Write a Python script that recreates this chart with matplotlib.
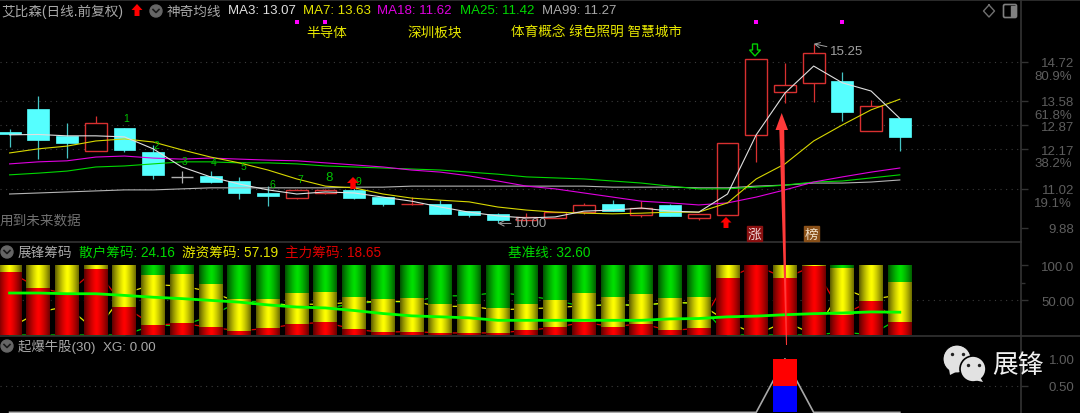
import numpy as np
import matplotlib
matplotlib.use('Agg')
import matplotlib.pyplot as plt
from matplotlib.patches import Circle, FancyBboxPatch, Rectangle

plt.rcParams['font.family'] = ['Liberation Sans', 'Noto Sans CJK SC']

# candles, one per day
opens = [12.67, 13.35, 12.56, 12.12, 12.78, 12.09, 11.36, 11.39, 11.24, 10.89, 10.74, 10.89, 10.98, 10.77, 10.56, 10.57,
         10.36, 10.28, 10.09, 10.16, 10.33, 10.57, 10.25, 10.54, 10.16, 10.25, 12.59, 13.84, 14.11, 14.16, 12.70, 13.08]
closes = [12.61, 12.44, 12.35, 12.94, 12.15, 11.42, 11.36, 11.21, 10.89, 10.80, 10.98, 10.98, 10.74, 10.57, 10.58, 10.28,
          10.25, 10.11, 10.19, 10.33, 10.54, 10.36, 10.45, 10.22, 10.28, 12.35, 14.81, 14.05, 14.98, 13.26, 13.43, 12.53]
highs = [12.75, 13.73, 12.95, 13.14, 12.78, 12.29, 11.53, 11.53, 11.36, 11.09, 11.01, 11.01, 11.04, 10.77, 10.77, 10.68,
         10.36, 10.30, 10.30, 10.33, 10.60, 10.68, 10.65, 10.57, 10.28, 12.35, 14.81, 14.69, 15.25, 14.43, 13.61, 13.08]
lows = [12.22, 11.88, 11.91, 12.12, 12.09, 11.30, 11.18, 11.18, 10.71, 10.51, 10.71, 10.86, 10.71, 10.51, 10.54, 10.28,
        10.19, 10.00, 10.09, 10.16, 10.28, 10.36, 10.19, 10.22, 10.10, 10.25, 11.80, 13.52, 13.55, 13.00, 12.70, 12.12]

ma3 = [12.59, 12.60, 12.56, 12.56, 12.53, 12.18, 11.65, 11.36, 11.15, 10.98, 10.86, 10.92, 10.89, 10.77, 10.65, 10.48,
       10.33, 10.22, 10.16, 10.19, 10.36, 10.39, 10.45, 10.36, 10.33, 10.86, 12.59, 13.81, 14.60, 14.11, 13.87, 13.07]
ma7 = [12.06, 12.18, 12.26, 12.41, 12.47, 12.38, 12.15, 11.94, 11.77, 11.56, 11.30, 11.09, 11.04, 10.86, 10.74, 10.68,
       10.63, 10.48, 10.39, 10.33, 10.30, 10.28, 10.30, 10.33, 10.33, 10.60, 11.30, 11.74, 12.41, 12.88, 13.32, 13.63]
ma18 = [11.74, 11.80, 11.83, 11.94, 11.97, 11.91, 11.88, 11.91, 11.88, 11.85, 11.83, 11.77, 11.71, 11.65, 11.56, 11.50,
        11.39, 11.24, 11.09, 11.01, 10.89, 10.77, 10.65, 10.60, 10.54, 10.60, 10.77, 10.98, 11.21, 11.36, 11.50, 11.62]
ma25 = [11.42, 11.47, 11.53, 11.65, 11.68, 11.74, 11.80, 11.80, 11.77, 11.77, 11.74, 11.68, 11.65, 11.62, 11.59, 11.56,
        11.50, 11.44, 11.36, 11.33, 11.30, 11.24, 11.18, 11.09, 11.01, 11.01, 11.06, 11.12, 11.21, 11.24, 11.33, 11.42]
ma99 = [10.86, 10.89, 10.92, 10.95, 10.98, 10.98, 11.01, 11.04, 11.04, 11.04, 11.04, 11.04, 11.06, 11.06, 11.09, 11.09,
        11.09, 11.09, 11.09, 11.09, 11.09, 11.06, 11.06, 11.06, 11.04, 11.04, 11.09, 11.12, 11.18, 11.18, 11.21, 11.27]

price_ticks = [14.72, 13.58, 12.87, 12.17, 11.02, 9.88]
price_grid = [14.72, 13.58, 12.87, 12.17, 11.02]
pct_labels = ['80.9%', '61.8%', '38.2%', '19.1%']
pct_prices = [14.72, 13.58, 12.17, 11.02]

# chip panel, percent of each stack
retail = [0.0, 0.0, 0.0, 0.0, 0.0, 14.0, 13.5, 27.0, 48.0, 48.0, 40.0, 38.0, 45.0, 48.0, 47.0, 56.0,
          56.0, 61.0, 56.0, 50.0, 40.0, 45.0, 41.5, 47.0, 45.0, 0.0, 0.0, 0.0, 0.0, 4.0, 0.5, 24.16]
hot_money = [10.0, 32.5, 41.0, 6.0, 59.5, 72.0, 70.0, 62.0, 46.0, 42.5, 44.0, 44.0, 47.0, 48.0, 48.0, 41.0,
             41.0, 36.0, 37.5, 39.0, 42.0, 43.0, 42.5, 46.5, 45.5, 19.0, 0.5, 19.0, 1.0, 67.0, 51.0, 57.19]
main_force = [90.0, 67.5, 59.0, 94.0, 40.5, 14.0, 16.5, 11.0, 6.0, 9.5, 16.0, 18.0, 8.0, 4.0, 5.0, 3.0,
              3.0, 3.0, 6.5, 11.0, 18.0, 12.0, 16.0, 6.5, 9.5, 81.0, 99.5, 81.0, 99.0, 29.0, 48.5, 18.65]
baseline = [60, 60, 59, 59, 56.6, 54, 52, 49.5, 47, 43, 40, 38.7, 35, 30.7, 27.4, 26,
            24.5, 21, 21, 21, 21, 21, 21, 23, 23.6, 26, 27, 29, 30.5, 31.5, 33, 32.6]

# signal panel
xg = [0] * 27 + [1] + [0] * 4

days = np.arange(len(closes))

BG = 'black'
AXIS = '#333333'
TICKTXT = '#5e5e5e'
RED = '#d83030'
CYAN = '#55ffff'

fig = plt.figure(figsize=(10.8, 4.14), dpi=100, facecolor=BG)


def panel(top, bottom, ymin, ymax):
    # panels are placed by pixel rows of the 1080x414 picture
    ax = fig.add_axes([0, 1 - bottom / 414, 1021 / 1080, (bottom - top) / 414], facecolor=BG)
    ax.set_xlim(-0.334, 35.22)
    ax.set_ylim(ymin, ymax)
    for s in ['left', 'top', 'bottom']:
        ax.spines[s].set_visible(False)
    ax.spines['right'].set_color(AXIS)
    ax.spines['right'].set_linewidth(1.2)
    ax.xaxis.set_visible(False)
    ax.yaxis.tick_right()
    ax.tick_params(axis='y', colors=AXIS, length=5, width=1, labelsize=9.5, labelcolor=TICKTXT, pad=33.5)
    return ax


def right_align(ax):
    for lab in ax.get_yticklabels():
        lab.set_ha('right')


# main panel
ax1 = panel(0, 243, 9.457, 16.56)
ax1.set_yticks(price_ticks)
ax1.set_yticklabels(['%.2f' % v for v in price_ticks])
right_align(ax1)
for v in price_grid:
    ax1.axhline(v, color='#3c3c3c', lw=0.8, ls=(0, (1, 4)), zorder=1)
for v, s in zip(pct_prices, pct_labels):
    ax1.annotate(s, xy=(1, v), xycoords=('axes fraction', 'data'), xytext=(51, -14), textcoords='offset pixels',
                 ha='right', va='center', color=TICKTXT, fontsize=9.5, annotation_clip=False)

w = 0.76
for i in days:
    o, c = opens[i], closes[i]
    if c > o:
        ax1.vlines(i, lows[i], highs[i], color=RED, lw=0.9, zorder=2)
        ax1.bar(i, c - o, bottom=o, width=w, facecolor=BG, edgecolor=RED, lw=1.0, zorder=3)
    elif c == o:
        ax1.vlines(i, lows[i], highs[i], color='#b0b0b0', lw=0.9, zorder=2)
        ax1.hlines(c, i - w / 2, i + w / 2, color='#b0b0b0', lw=1, zorder=3)
    else:
        ax1.vlines(i, lows[i], highs[i], color='#45c4c4', lw=0.9, zorder=2)
        ax1.bar(i, o - c, bottom=c, width=w, facecolor=CYAN, edgecolor=CYAN, lw=0.5, zorder=3)

ax1.plot(days, ma99, color='#b4b4b4', lw=0.8, zorder=4)
ax1.plot(days, ma25, color='#00d800', lw=0.8, zorder=4)
ax1.plot(days, ma18, color='#e000e0', lw=0.8, zorder=4)
ax1.plot(days, ma7, color='#d8d800', lw=0.8, zorder=5)
ax1.plot(days, ma3, color='#e0e0e0', lw=0.8, zorder=6)

ax1.annotate('15.25', xy=(28, 15.25), xytext=(16, -7), textcoords='offset pixels', color='#a0a0a0', fontsize=9.5,
             va='center', arrowprops=dict(arrowstyle='->', color='#a0a0a0', lw=0.7, shrinkA=0, shrinkB=0), zorder=7)
ax1.annotate('10.00', xy=(17, 10.00), xytext=(16, 0), textcoords='offset pixels', color='#a0a0a0', fontsize=9.5,
             va='center', arrowprops=dict(arrowstyle='->', color='#a0a0a0', lw=0.7, shrinkA=0, shrinkB=0), zorder=7)

# chip panel
ax2 = panel(243, 337, -1.4, 132.9)
ax2.set_yticks([100, 50])
ax2.set_yticklabels(['100.0', '50.00'])
right_align(ax2)
ax2.set_yticks([75], minor=True)
ax2.tick_params(axis='y', which='minor', colors=AXIS, length=3, width=1)
ax2.axhline(50, color='#3c3c3c', lw=0.8, ls=(0, (1, 4)), zorder=1)
ax2.plot(days, retail, color='#00d000', lw=0.9, zorder=2)
ax2.plot(days, hot_money, color='#e6e600', lw=0.9, zorder=2)
ax2.plot(days, main_force, color='#e00000', lw=0.9, zorder=2)

bw = 0.836
stack1 = np.array(main_force)
stack2 = stack1 + np.array(hot_money)
ax2.bar(days, main_force, width=bw, color='#ff0000', zorder=3)
ax2.bar(days, hot_money, bottom=stack1, width=bw, color='#ffff00', zorder=3)
ax2.bar(days, retail, bottom=stack2, width=bw, color='#00e000', zorder=3)
# cylinder shading on every bar
t = np.linspace(-1, 1, 24)
shade = np.zeros((1, 24, 4))
shade[0, :, 3] = 0.62 * np.abs(t) ** 1.3
for i in days:
    ax2.imshow(shade, extent=[i - bw / 2, i + bw / 2, 0, 100], aspect='auto', zorder=4, interpolation='bilinear')
ax2.set_xlim(-0.334, 35.22)
ax2.set_ylim(-1.4, 132.9)
ax2.plot(days, baseline, color='#00ff00', lw=2.0, zorder=5, solid_joinstyle='miter')

# signal panel
ax3 = panel(337, 414, -0.012, 1.426)
ax3.set_yticks([1.0, 0.5])
ax3.set_yticklabels(['1.00', '0.50'])
right_align(ax3)
ax3.axhline(0.5, color='#3c3c3c', lw=0.8, ls=(0, (1, 4)), zorder=1)
ax3.plot(days, xg, color='#a8a8a8', lw=1.2, zorder=2)
xg_arr = np.array(xg, dtype=float)
ax3.bar(days, xg_arr * 0.5, width=bw, color='#0000ff', zorder=3)
ax3.bar(days, xg_arr * 0.5, bottom=xg_arr * 0.5, width=bw, color='#ff0000', zorder=3)

# overlay in picture pixels for header text and decorations
top = fig.add_axes([0, 0, 1, 1], facecolor='none')
top.set_xlim(0, 1080)
top.set_ylim(414, 0)
top.axis('off')
top.axhline(0.7, color=AXIS, lw=1.2)
top.plot([0, 1021], [243, 243], color=AXIS, lw=1.2)
top.plot([0, 1080], [337, 337], color=AXIS, lw=1.2)


def label(x, y, s, color, size=9.5, **kw):
    top.text(x, y, s, color=color, fontsize=size, va='center', **kw)


def chevron(x, y):
    top.add_patch(Circle((x, y), 6, color='#666666', zorder=8))
    top.plot([x - 3, x, x + 3], [y - 1.5, y + 1.5, y - 1.5], color='#1a1a1a', lw=1.2, zorder=9)


def up_arrow(x, y, h, hw, color, fill=True, lw=1.0):
    xs = [x, x + hw, x + hw * 0.45, x + hw * 0.45, x - hw * 0.45, x - hw * 0.45, x - hw]
    ys = [y, y + h * 0.5, y + h * 0.5, y + h, y + h, y + h * 0.5, y + h * 0.5]
    if fill:
        top.fill(xs, ys, color=color, zorder=8, lw=0)
    else:
        top.fill(xs, ys, facecolor='none', edgecolor=color, lw=lw, zorder=8)


label(1, 11.5, '艾比森(日线.前复权)', '#a8a8a8', 9.8)
up_arrow(137, 5, 12, 5.5, '#ff0000')
chevron(156, 12)
label(167, 11.5, '神奇均线', '#a8a8a8', 9.8)
label(228, 11.5, 'MA3: 13.07', '#e0e0e0')
label(303, 11.5, 'MA7: 13.63', '#e6e600')
label(377, 11.5, 'MA18: 11.62', '#e000e0')
label(460, 11.5, 'MA25: 11.42', '#00d800')
label(542, 11.5, 'MA99: 11.27', '#a8a8a8')

label(306, 33, '半导体', '#e6e600', 9.8)
label(407, 33, '深圳板块', '#e6e600', 9.8)
label(511, 33, '体育概念 绿色照明 智慧城市', '#e6e600', 9.8)
ax1.scatter([10, 11, 26, 29], [15.89] * 4, s=5, marker='s', color='#ff00ff', lw=0, zorder=7)

top.plot([989, 994.5, 989, 983.5, 989], [6, 12, 18, 12, 6], color='#707070', lw=1)
top.add_patch(FancyBboxPatch((1005, 7), 10, 10, boxstyle='round,pad=1.5', facecolor='none', edgecolor='#808080', lw=1.2))
top.add_patch(Rectangle((1011, 7), 4, 10, color='#808080'))

# day counters over the candles
for s, x, y in [('1', 126, 119), ('2', 156, 146), ('3', 185, 162), ('4', 214, 163), ('5', 243, 167), ('6', 272, 185),
                ('7', 300, 180), ('8', 329, 178), ('9', 358, 182)]:
    label(x, y, s, '#00c000', 9.6 if s == '8' else 7.5, ha='center', zorder=10)

up_arrow(353, 178, 12, 6, '#ff0000')
up_arrow(726, 218, 11, 5.5, '#ff0000')
up_arrow(755, 57, -12, 5.5, '#00d000', fill=False)
top.add_patch(Rectangle((747, 227), 15, 15, color='#8a1010', zorder=8))
label(754.5, 234.5, '涨', '#f0d8d8', 9.8, ha='center', zorder=9)
top.add_patch(Rectangle((804, 227), 15, 15, color='#8a5018', zorder=8))
label(811.5, 234.5, '榜', '#f0e0c8', 9.8, ha='center', zorder=9)
label(0, 220, '用到未来数据', '#707070', 9.8)

# big arrow drawn over all panels
top.fill([779.3, 784.2, 787, 786], [130, 130, 346, 346], color='#ff3a3a', lw=0, zorder=12)
top.fill([781.7, 788, 775.5], [114, 131, 131], color='#ff3a3a', lw=0, zorder=12)

chevron(7, 253)
label(18, 253, '展锋筹码', '#a8a8a8', 9.8)
label(79, 253, '散户筹码: 24.16', '#00d800', 9.8)
label(182, 253, '游资筹码: 57.19', '#e6e600', 9.8)
label(285, 253, '主力筹码: 18.65', '#e00000', 9.8)
label(508, 253, '基准线: 32.60', '#00d800', 9.8)

chevron(7, 347)
label(18, 347, '起爆牛股(30)  XG: 0.00', '#a8a8a8', 9.6)

# wechat watermark
top.add_patch(Circle((957, 360), 14, color='#e2e2e2', ec='black', lw=0.8, zorder=13))
top.fill([949, 950, 958], [370, 376, 372], color='#e2e2e2', lw=0, zorder=13)
top.add_patch(Circle((973, 370), 13, color='#e2e2e2', ec='black', lw=1.2, zorder=14))
top.fill([980, 983, 974], [378, 383, 381], color='#e2e2e2', lw=0, zorder=14)
top.scatter([952, 963, 968, 979], [355, 355, 366, 366], s=6, color='#202020', lw=0, zorder=15)
label(992, 366, '展锋', '#f0f0f0', 18.5, zorder=15)

fig.savefig('out.png', dpi=100, facecolor=BG)
plt.close()
